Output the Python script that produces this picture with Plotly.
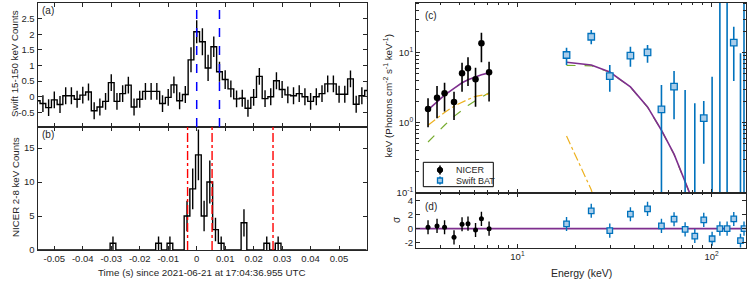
import plotly.graph_objects as go

W, H = 753, 281

# ---------------- Panel (a): Swift 15-150 keV light curve ----------------
swift_bin_start = -0.057
swift_bin_width = 0.002
swift_counts = [-0.13, -0.22, -0.35, -0.10, -0.25, 0.03, 0.03, -0.08, 0.05, 0.15,
                -0.45, -0.33, -0.15, 0.45, -0.15, 0.10, 0.37, -0.33, -0.08, 0.17,
                0.17, 0.17, -0.22, -0.02, 0.38, -0.13, 0.07, 1.18, 2.08, 1.76,
                0.92, 1.60, 0.80, 0.55, 0.25, -0.07, -0.05, -0.37, -0.02, 0.65,
                -0.06, 0.00, 0.51, 0.23, 0.06, 0.03, 0.10, 0.00, -0.15, 0.00,
                0.10, 0.41, 0.41, 0.08, 0.08, 0.57, -0.24, 0.03, 0.20]
swift_err = [0.27] * 27 + [0.40, 0.37, 0.43, 0.42, 0.33, 0.32, 0.30] + [0.27] * 25
swift_interval = [0.0, 0.008]

# ---------------- Panel (b): NICER 2-8 keV light curve ----------------
nicer_bin_start = -0.0564
nicer_bin_width = 0.002
nicer_counts = [0, 0, 0, 0, 0, 0, 0, 0, 0, 0,
                0, 0, 0, 1, 0, 0, 0, 0, 0, 0,
                0, 1, 0, 1, 0, 0, 5, 9, 14, 5,
                10, 3, 1, 0, 0, 0, 4, 0, 0, 0,
                1, 0, 1, 0, 0, 0, 0, 0, 0, 0,
                0, 0, 0, 0, 0, 0, 0, 0]
nicer_count_err = [0, 0, 0, 0, 0, 0, 0, 0, 0, 0,
                   0, 0, 0, 1, 0, 0, 0, 0, 0, 0,
                   0, 1, 0, 1, 0, 0, 2.24, 3.0, 3.74, 2.24,
                   3.16, 1.73, 1, 0, 0, 0, 2.0, 0, 0, 0,
                   1, 0, 1, 0, 0, 0, 0, 0, 0, 0,
                   0, 0, 0, 0, 0, 0, 0, 0]
nicer_interval = [-0.0032, 0.0054, 0.0268]

time_ticks = [-0.05, -0.04, -0.03, -0.02, -0.01, 0, 0.01, 0.02, 0.03, 0.04, 0.05]
time_tick_text = ["-0.05", "-0.04", "-0.03", "-0.02", "-0.01", "0", "0.01", "0.02", "0.03", "0.04", "0.05"]
swift_yticks = [-0.5, 0, 0.5, 1, 1.5, 2, 2.5, 3]
swift_ytext = ["-0.5", "0", "0.5", "1", "1.5", "2", "2.5", "3"]
nicer_yticks = [0, 5, 10, 15]

# ---------------- Panel (c): spectrum ----------------
nicer_E = [3.46, 3.85, 4.21, 4.71, 5.18, 5.56, 6.08, 6.52, 7.14]
nicer_F = [1.57, 2.28, 2.63, 1.98, 5.08, 5.98, 4.17, 13.6, 5.25]
nicer_F_hi = [2.23, 3.34, 3.73, 2.77, 7.2, 8.6, 6.1, 19.3, 7.4]
nicer_F_lo = [0.86, 1.16, 1.44, 1.09, 2.77, 3.34, 1.69, 7.3, 2.0]

bat_E = [17.9, 24.0, 29.9, 38.2, 46.8, 55.2, 64.1, 73.1, 82.0, 91.2, 100.7, 110.4, 120.3, 130.2, 141.0, 147.0]
bat_F = [9.27, 16.9, 4.64, 9.06, 10.1, 1.55, 3.27, 0.02, 0.02, 1.16, 0.02, 0.02, 0.02, 13.9, 0.02, 0.02]
bat_F_hi = [11.8, 21.1, 6.67, 12.2, 12.9, 3.46, 5.48, 2.93, 1.89, 2.04, 4.54, 100, 100, 23.5, 9.8, 100]
bat_F_lo = [6.67, 13.2, 2.77, 6.3, 7.2, 0.01, 1.12, 0.01, 0.01, 0.26, 0.01, 0.01, 0.01, 3.94, 0.01, 0.01]

model_nicer_E = [3.46, 3.85, 4.21, 4.71, 5.18, 5.56, 6.08, 6.52, 7.14]
model_nicer_total = [1.52, 2.0, 2.48, 3.1, 3.72, 4.1, 4.55, 4.85, 5.15]
model_nicer_bb = [0.92, 1.16, 1.4, 1.72, 1.98, 2.15, 2.38, 2.48, 2.57]
model_nicer_cpl = [0.53, 0.72, 0.92, 1.23, 1.52, 1.76, 2.07, 2.33, 2.68]

model_bat_E = [17.9, 24.0, 29.9, 38.2, 46.8, 55.2, 64.1, 73.1, 82.0]
model_bat_total = [7.3, 6.67, 5.3, 3.25, 1.68, 0.78, 0.355, 0.144, 0.065]
model_bat_cpl = [6.6, 6.5, 5.25, 3.23, 1.67, 0.775, 0.352, 0.143, 0.064]
model_bat_bb_E = [17.9, 24.0, 29.9]
model_bat_bb = [0.645, 0.11, 0.015]

# ---------------- Panel (d): residuals ----------------
nicer_res = [0.2, 0.39, 0.2, -1.23, 0.63, 0.71, -0.19, 1.39, 0.0]
bat_res = [0.67, 2.53, -0.28, 2.05, 2.81, 0.39, 1.34, -0.1, -1.05, 1.24, -1.43, 0.0, 0.0, 1.38, -1.71, 0.0]
res_err = 1.0

energy_major = [10, 100]
energy_major_text = ["10<sup>1</sup>", "10<sup>2</sup>"]
energy_minor = [4, 5, 6, 7, 8, 9, 20, 30, 40, 50, 60, 70, 80, 90]
flux_major = [0.1, 1, 10]
flux_major_text = ["10<sup>-1</sup>", "10<sup>0</sup>", "10<sup>1</sup>"]
flux_minor = [0.2, 0.3, 0.4, 0.5, 0.6, 0.7, 0.8, 0.9, 2, 3, 4, 5, 6, 7, 8, 9, 20, 30, 40, 50]
res_ticks = [-2, 0, 2, 4]
res_text = ["-2", "0", "2", "4"]

legend_labels = ["NICER", "Swift BAT"]

# colours
C_BLUE = "#0072BD"
C_BLUE_FILL = "#a9cdea"
C_PURPLE = "#7E2F8E"
C_ORANGE = "#EDB120"
C_GREEN = "#77AC30"
AX = "#262626"
FONT = "Liberation Sans, Arial, sans-serif"

# --------- derived bin geometry ---------
swift_edges = [swift_bin_start + swift_bin_width * k for k in range(len(swift_counts) + 1)]
swift_centers = [e + swift_bin_width / 2 for e in swift_edges[:-1]]
nicer_edges = [nicer_bin_start + nicer_bin_width * k for k in range(len(nicer_counts) + 1)]
nicer_centers = [e + nicer_bin_width / 2 for e in nicer_edges[:-1]]

fig = go.Figure()

# (a) step histogram
fig.add_trace(go.Scatter(x=swift_edges, y=swift_counts + [swift_counts[-1]], mode="lines",
                         line=dict(shape="hv", color="black", width=1.4),
                         xaxis="x", yaxis="y", showlegend=False, hoverinfo="skip"))
fig.add_trace(go.Scatter(x=swift_centers, y=swift_counts, mode="markers",
                         marker=dict(size=1, color="rgba(0,0,0,0)"),
                         error_y=dict(type="data", array=swift_err, width=0, thickness=1.4, color="black"),
                         xaxis="x", yaxis="y", showlegend=False, hoverinfo="skip"))

# (b) step histogram
fig.add_trace(go.Scatter(x=nicer_edges, y=nicer_counts + [nicer_counts[-1]], mode="lines",
                         line=dict(shape="hv", color="black", width=1.4),
                         xaxis="x2", yaxis="y2", showlegend=False, hoverinfo="skip"))
nz = [i for i, c in enumerate(nicer_counts) if c > 0]
fig.add_trace(go.Scatter(x=[nicer_centers[i] for i in nz], y=[nicer_counts[i] for i in nz], mode="markers",
                         marker=dict(size=1, color="rgba(0,0,0,0)"),
                         error_y=dict(type="data", array=[nicer_count_err[i] for i in nz], width=0,
                                      thickness=1.4, color="black"),
                         xaxis="x2", yaxis="y2", showlegend=False, hoverinfo="skip"))

# (c) models
for E, F, col, dash, w in [
    (model_nicer_E, model_nicer_cpl, C_GREEN, "dash", 1.2),
    (model_nicer_E, model_nicer_bb, C_ORANGE, "dashdot", 1.2),
    (model_nicer_E, model_nicer_total, C_PURPLE, "solid", 1.6),
    (model_bat_E, model_bat_cpl, C_GREEN, "dash", 1.2),
    (model_bat_bb_E, model_bat_bb, C_ORANGE, "dashdot", 1.2),
    (model_bat_E, model_bat_total, C_PURPLE, "solid", 1.6),
]:
    fig.add_trace(go.Scatter(x=E, y=F, mode="lines", line=dict(color=col, dash=dash, width=w),
                             xaxis="x3", yaxis="y3", showlegend=False, hoverinfo="skip"))

# (c) data
fig.add_trace(go.Scatter(x=nicer_E, y=nicer_F, mode="markers", name=legend_labels[0],
                         marker=dict(symbol="circle", size=6.5, color="black"),
                         error_y=dict(type="data", symmetric=False,
                                      array=[h - f for h, f in zip(nicer_F_hi, nicer_F)],
                                      arrayminus=[f - l for f, l in zip(nicer_F, nicer_F_lo)],
                                      width=0, thickness=1.6, color="black"),
                         xaxis="x3", yaxis="y3", showlegend=False))
fig.add_trace(go.Scatter(x=bat_E, y=bat_F, mode="markers", name=legend_labels[1],
                         marker=dict(symbol="square", size=6.5, color=C_BLUE_FILL,
                                     line=dict(color=C_BLUE, width=1.3)),
                         error_y=dict(type="data", symmetric=False,
                                      array=[h - f for h, f in zip(bat_F_hi, bat_F)],
                                      arrayminus=[f - l for f, l in zip(bat_F, bat_F_lo)],
                                      width=0, thickness=1.6, color=C_BLUE),
                         xaxis="x3", yaxis="y3", showlegend=False))

# (d) residuals
fig.add_trace(go.Scatter(x=nicer_E, y=nicer_res, mode="markers",
                         marker=dict(symbol="circle", size=5, color="black"),
                         error_y=dict(type="data", array=[res_err] * len(nicer_res), width=0,
                                      thickness=1.4, color="black"),
                         xaxis="x4", yaxis="y4", showlegend=False))
fig.add_trace(go.Scatter(x=bat_E, y=bat_res, mode="markers",
                         marker=dict(symbol="square", size=5.5, color=C_BLUE_FILL,
                                     line=dict(color=C_BLUE, width=1.3)),
                         error_y=dict(type="data", array=[res_err] * len(bat_res), width=0,
                                      thickness=1.4, color=C_BLUE),
                         xaxis="x4", yaxis="y4", showlegend=False))

# ---- layout helpers (p = pixel position in the 753x281 window) ----
def px(p):
    return p / W

def py(p):
    return 1 - p / H

L0, L1 = px(37.5), px(367)
R0, R1 = px(416), px(745.7)

common = dict(showline=True, linecolor=AX, linewidth=1, mirror="ticks", ticks="inside",
              tickcolor=AX, ticklen=4, tickwidth=1, showgrid=False, zeroline=False,
              automargin=False,
              tickfont=dict(family=FONT, size=9.5, color=AX))

shapes = []
for t in swift_interval:
    shapes.append(dict(type="line", xref="x", yref="y domain", x0=t, x1=t, y0=0, y1=1,
                       line=dict(color="#0000FF", width=1.5, dash="dash"), layer="above"))
for t in nicer_interval:
    shapes.append(dict(type="line", xref="x2", yref="y2 domain", x0=t, x1=t, y0=0, y1=1,
                       line=dict(color="#FF0000", width=1.4, dash="dashdot"), layer="above"))
shapes.append(dict(type="line", xref="x4 domain", yref="y4", x0=0, x1=1, y0=0, y1=0,
                   line=dict(color=C_PURPLE, width=1.6), layer="below"))

# legend box drawn as layout decoration (compact, as in the reference)
def pshape(**kw):
    d = dict(xref="paper", yref="paper", layer="above")
    d.update(kw)
    shapes.append(d)

pshape(type="rect", x0=px(423.3), x1=px(493.3), y0=py(186.7), y1=py(162.3),
       line=dict(color="black", width=1), fillcolor="white")
pshape(type="line", x0=px(440), x1=px(440), y0=py(174.5), y1=py(165.5),
       line=dict(color="black", width=1.6))
pshape(type="circle", x0=px(437.3), x1=px(442.7), y0=py(172.7), y1=py(167.3),
       line=dict(color="black", width=1), fillcolor="black")
pshape(type="line", x0=px(440), x1=px(440), y0=py(184.5), y1=py(176.5),
       line=dict(color=C_BLUE, width=1.6))
pshape(type="rect", x0=px(437.5), x1=px(442.5), y0=py(183), y1=py(178),
       line=dict(color=C_BLUE, width=1.3), fillcolor=C_BLUE_FILL)

ann = []
def add_text(text, x, y, size=10, angle=0, xanchor="center"):
    ann.append(dict(text=text, x=px(x), y=py(y), xref="paper", yref="paper", showarrow=False,
                    textangle=angle, xanchor=xanchor, yanchor="middle",
                    font=dict(family=FONT, size=size, color=AX)))

add_text("Swift 15-150 keV Counts", 14.5, 63.5, 9.7, -90)
add_text("NICER 2-8 keV Counts", 15, 187, 9.7, -90)
add_text("Time (s) since 2021-06-21 at 17:04:36.955 UTC", 202, 272.5, 9.8)
add_text("keV (Photons cm<sup>-2</sup> s<sup>-1</sup> keV<sup>-1</sup>)", 387.5, 96, 9.8, -90)
add_text("σ", 396, 220, 10, -90)
add_text("Energy (keV)", 581.5, 272.5, 10.5)
add_text("(a)", 48, 11, 10)
add_text("(b)", 48, 134, 10)
add_text("(c)", 431, 15, 10)
add_text("(d)", 431, 206, 10)
add_text(legend_labels[0], 454, 170, 9, xanchor="left")
add_text(legend_labels[1], 454, 181, 9, xanchor="left")

fig.update_layout(
    width=W, height=H, margin=dict(l=0, r=0, t=0, b=0, autoexpand=False),
    paper_bgcolor="white", plot_bgcolor="white", showlegend=False,
    font=dict(family=FONT, size=9.5, color=AX),
    xaxis=dict(domain=[L0, L1], anchor="y", range=[-0.0559, 0.0598],
               tickvals=time_ticks, showticklabels=False, **common),
    yaxis=dict(domain=[py(127), py(3)], anchor="x", range=[-0.97, 3],
               tickvals=swift_yticks, ticktext=swift_ytext, **common),
    xaxis2=dict(domain=[L0, L1], anchor="y2", range=[-0.0559, 0.0598], matches="x",
                tickvals=time_ticks, ticktext=time_tick_text, **common),
    yaxis2=dict(domain=[py(250), py(127)], anchor="x2", range=[0, 18.1],
                tickvals=nicer_yticks, **common),
    xaxis3=dict(domain=[R0, R1], anchor="y3", type="log", range=[0.4771, 2.1761],
                tickvals=energy_major, showticklabels=False,
                minor=dict(ticks="inside", ticklen=2.5, tickcolor=AX, tickvals=energy_minor), **common),
    yaxis3=dict(domain=[py(192.7), py(2.7)], anchor="x3", type="log", range=[-1, 1.714],
                tickvals=flux_major, ticktext=flux_major_text,
                minor=dict(ticks="inside", ticklen=2.5, tickcolor=AX, tickvals=flux_minor), **common),
    xaxis4=dict(domain=[R0, R1], anchor="y4", type="log", range=[0.4771, 2.1761], matches="x3",
                tickvals=energy_major, ticktext=energy_major_text,
                minor=dict(ticks="inside", ticklen=2.5, tickcolor=AX, tickvals=energy_minor), **common),
    yaxis4=dict(domain=[py(247.7), py(192.7)], anchor="x4", range=[-2.7, 5.1],
                tickvals=res_ticks, ticktext=res_text, **common),
    shapes=shapes, annotations=ann,
)

# remove the page's default 8 px body margin so the figure fills the window
fig.write_html("out.html", config={"displayModeBar": False},
               post_script="document.body.style.margin='0';document.body.style.overflow='hidden';")
